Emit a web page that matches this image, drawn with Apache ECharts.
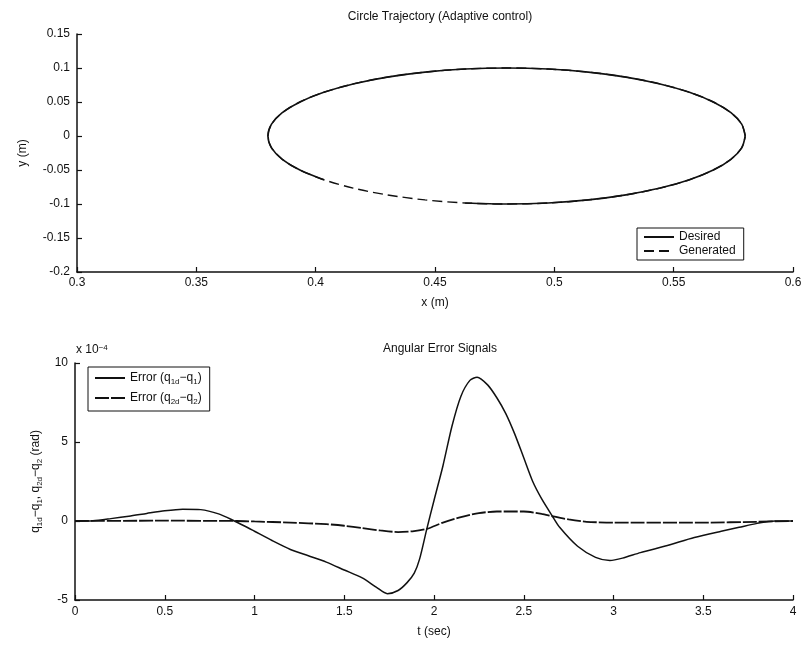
<!DOCTYPE html>
<html>
<head>
<meta charset="utf-8">
<script src="https://cdn.jsdelivr.net/npm/echarts@6/dist/echarts.min.js"></script>
<style>html,body{margin:0;padding:0;background:#fff}#c{width:806px;height:646px}</style>
</head>
<body>
<div id="c"></div>
<script>
// ---- Top chart: circle trajectory (x, y in metres), 10 degree steps
var desiredX = [0.58,0.5785,0.5740,0.5666,0.5566,0.5443,0.53,0.5142,0.4974,0.48,0.4626,0.4458,0.43,0.4157,0.4034,0.3934,0.3860,0.3815,0.38,0.3815,0.3860,0.3934,0.4034,0.4157,0.43,0.4458,0.4626,0.48,0.4974,0.5142,0.53,0.5443,0.5566,0.5666,0.5740,0.5785,0.58];
var desiredY = [0,0.0174,0.0342,0.05,0.0643,0.0766,0.0866,0.0940,0.0985,0.1,0.0985,0.0940,0.0866,0.0766,0.0643,0.05,0.0342,0.0174,0,-0.0174,-0.0342,-0.05,-0.0643,null,null,null,-0.0985,-0.1,-0.0985,-0.0940,-0.0866,-0.0766,-0.0643,-0.05,-0.0342,-0.0174,0];
var generatedX = [0.58,0.5785,0.5740,0.5666,0.5566,0.5443,0.53,0.5142,0.4974,0.48,0.4626,0.4458,0.43,0.4157,0.4034,0.3934,0.3860,0.3815,0.38,0.3815,0.3860,0.3934,0.4034,0.4157,0.43,0.4458,0.4626,0.48,0.4974,0.5142,0.53,0.5443,0.5566,0.5666,0.5740,0.5785,0.58];
var generatedY = [0,0.0174,0.0342,0.05,0.0643,0.0766,0.0866,0.0940,0.0985,0.1,0.0985,0.0940,0.0866,0.0766,0.0643,0.05,0.0342,0.0174,0,-0.0174,-0.0342,-0.05,-0.0643,-0.0766,-0.0866,-0.0940,-0.0985,-0.1,-0.0985,-0.0940,-0.0866,-0.0766,-0.0643,-0.05,-0.0342,-0.0174,0];
var topXTicks = ['0.3','0.35','0.4','0.45','0.5','0.55','0.6'];
var topYTicks = ['-0.2','-0.15','-0.1','-0.05','0','0.05','0.1','0.15'];

// ---- Bottom chart: angular errors (x 1e-4 rad) vs time (s)
var err1T = [0,0.1,0.2,0.3,0.4,0.5,0.6,0.7,0.8,0.88,0.95,1.0,1.1,1.2,1.3,1.4,1.5,1.6,1.68,1.74,1.8,1.85,1.89,1.92,1.96,2.0,2.05,2.1,2.15,2.2,2.24,2.3,2.35,2.4,2.45,2.5,2.55,2.6,2.66,2.7,2.8,2.9,2.98,3.05,3.15,3.3,3.45,3.6,3.7,3.8,3.9,4.0];
var err1V = [0,0.02,0.15,0.3,0.48,0.65,0.75,0.72,0.45,0.05,-0.35,-0.65,-1.25,-1.8,-2.2,-2.6,-3.1,-3.6,-4.2,-4.6,-4.4,-3.9,-3.3,-2.4,-0.5,1.3,3.5,6.0,7.9,8.9,9.1,8.6,7.8,6.8,5.5,4.0,2.5,1.4,0.3,-0.4,-1.6,-2.3,-2.5,-2.35,-2.0,-1.55,-1.05,-0.65,-0.4,-0.15,0,0];
var err2T = [0,0.5,0.9,1.0,1.2,1.4,1.5,1.6,1.7,1.8,1.88,1.96,2.05,2.15,2.25,2.35,2.5,2.6,2.66,2.75,2.85,3.0,3.5,3.8,4.0];
var err2V = [0,0.02,0,-0.03,-0.1,-0.2,-0.3,-0.45,-0.6,-0.7,-0.65,-0.5,-0.1,0.25,0.5,0.6,0.6,0.45,0.3,0.1,-0.05,-0.1,-0.1,-0.05,0];
var botXTicks = ['0','0.5','1','1.5','2','2.5','3','3.5','4'];
var botYTicks = ['-5','0','5','10'];

function zip(a, b) { return a.map(function (v, i) { return [v, b[i]]; }); }
function tickFmt(list) {
  return function (v) {
    for (var i = 0; i < list.length; i++) { if (Math.abs(parseFloat(list[i]) - v) < 1e-9) return list[i]; }
    return '';
  };
}

var FONT = 'Liberation Sans';
var AXC = '#111';
var base = {
  axisLine: { onZero: false, lineStyle: { color: AXC, width: 1.5 } },
  axisTick: { inside: true, length: 5, lineStyle: { color: AXC, width: 1.2 } },
  splitLine: { show: false },
  axisLabel: { color: '#111', fontFamily: FONT, fontSize: 12 },
  nameTextStyle: { color: '#111', fontFamily: FONT, fontSize: 12 }
};
function ax(o) { return echarts.util.merge(echarts.util.clone(base), o, true); }

var subRich = {
  s: { fontSize: 8, fontFamily: FONT, color: '#111', verticalAlign: 'bottom', lineHeight: 8 },
  n: { fontSize: 12, fontFamily: FONT, color: '#111', lineHeight: 16 }
};

var chart = echarts.init(document.getElementById('c'), null, { renderer: 'canvas' });
chart.setOption({
  backgroundColor: '#fff',
  animation: false,
  title: [
    { text: 'Circle Trajectory (Adaptive control)', left: 435, top: 6, textAlign: 'center',
      textStyle: { fontFamily: FONT, fontSize: 12, fontWeight: 'normal', color: '#111' } },
    { text: 'Angular Error Signals', left: 435, top: 338, textAlign: 'center',
      textStyle: { fontFamily: FONT, fontSize: 12, fontWeight: 'normal', color: '#111' } }
  ],
  grid: [
    { left: 77, right: 13, top: 34, height: 238 },
    { left: 75, right: 13, top: 363, height: 237 }
  ],
  legend: [
    { data: ['Desired', 'Generated'], orient: 'vertical', left: 637, top: 228,
      backgroundColor: '#fff', borderColor: '#111', borderWidth: 1, borderRadius: 0,
      padding: [3, 8, 3, 6], itemGap: 2, itemWidth: 30, itemHeight: 14,
      itemStyle: { opacity: 0 },
      textStyle: { fontFamily: FONT, fontSize: 12, color: '#111' } },
    { data: ['Error (q1d-q1)', 'Error (q2d-q2)'], orient: 'vertical', left: 88, top: 367,
      backgroundColor: '#fff', borderColor: '#111', borderWidth: 1, borderRadius: 0,
      padding: [5, 8, 5, 6], itemGap: 6, itemWidth: 30, itemHeight: 14,
      itemStyle: { opacity: 0 },
      formatter: function (name) {
        return name === 'Error (q1d-q1)' ? '{n|Error (q}{s|1d}{n|\u2212q}{s|1}{n|)}'
                                         : '{n|Error (q}{s|2d}{n|\u2212q}{s|2}{n|)}';
      },
      textStyle: { fontFamily: FONT, fontSize: 12, color: '#111', rich: subRich } }
  ],
  xAxis: [
    ax({ type: 'value', gridIndex: 0, min: 0.3, max: 0.6, interval: 0.05, name: 'x (m)',
         nameLocation: 'middle', nameGap: 25, axisLabel: { formatter: tickFmt(topXTicks), margin: 5 } }),
    ax({ type: 'value', gridIndex: 1, min: 0, max: 4, interval: 0.5, name: 't (sec)',
         nameLocation: 'middle', nameGap: 26, axisLabel: { formatter: tickFmt(botXTicks), margin: 6 } })
  ],
  yAxis: [
    ax({ type: 'value', gridIndex: 0, min: -0.2, max: 0.15, interval: 0.05, name: 'y (m)',
         nameLocation: 'middle', nameGap: 48, axisLabel: { formatter: tickFmt(topYTicks), margin: 7 } }),
    ax({ type: 'value', gridIndex: 1, min: -5, max: 10, interval: 5,
         name: '{n|q}{s|1d}{n|\u2212q}{s|1}{n|, q}{s|2d}{n|\u2212q}{s|2}{n| (rad)}',
         nameLocation: 'middle', nameGap: 30,
         nameTextStyle: { rich: subRich },
         axisLabel: { formatter: tickFmt(botYTicks), margin: 7 } })
  ],
  graphic: [
    { type: 'text', left: 76, top: 344,
      style: { text: 'x 10{p|\u22124}', fill: '#111', font: '12px "Liberation Sans"',
               rich: { p: { fontSize: 8, fontFamily: FONT, fill: '#111', verticalAlign: 'top', lineHeight: 8 } } } }
  ],
  series: [
    { name: 'Desired', type: 'line', xAxisIndex: 0, yAxisIndex: 0, data: zip(desiredX, desiredY),
      symbol: 'none', smooth: 0.3, connectNulls: false, lineStyle: { color: '#111', width: 1.6 }, itemStyle: { color: '#111' } },
    { name: 'Generated', type: 'line', xAxisIndex: 0, yAxisIndex: 0, data: zip(generatedX, generatedY),
      symbol: 'none', smooth: 0.3, lineStyle: { color: '#111', width: 1.4, type: [10, 5] }, itemStyle: { color: '#111' } },
    { name: 'Error (q1d-q1)', type: 'line', xAxisIndex: 1, yAxisIndex: 1, data: zip(err1T, err1V),
      symbol: 'none', smooth: 0.25, lineStyle: { color: '#111', width: 1.5 }, itemStyle: { color: '#111' } },
    { name: 'Error (q2d-q2)', type: 'line', xAxisIndex: 1, yAxisIndex: 1, data: zip(err2T, err2V),
      symbol: 'none', smooth: 0.25, lineStyle: { color: '#111', width: 1.8, type: [14, 2] }, itemStyle: { color: '#111' } }
  ]
});
</script>
</body>
</html>
